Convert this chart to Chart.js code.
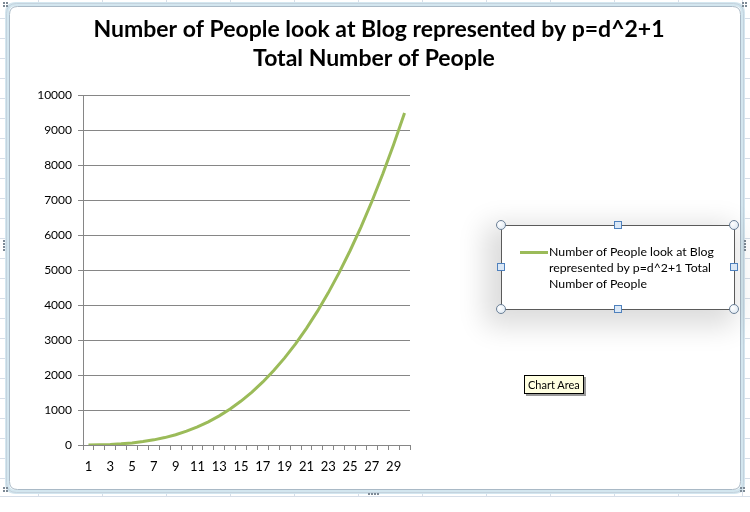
<!DOCTYPE html>
<html>
<head>
<meta charset="utf-8">
<script src="https://cdn.jsdelivr.net/npm/chart.js@4"></script>
<style>
  html, body { margin: 0; padding: 0; background: #fff; }
  #wrap { position: relative; width: 750px; height: 512px; overflow: hidden; }
  #c { position: absolute; left: 0; top: 0; }
  .legend { position: absolute; left: 501px; top: 225px; width: 234px; height: 85px; box-sizing: border-box;
            border: 1px solid #5a5a5a; background: #fff; box-shadow: -8px 8px 26px 8px rgba(0,0,0,0.14); }
  .swatch { position: absolute; left: 520px; top: 251px; width: 28px; height: 3px; background: #9bbb59; }
  .ltext { position: absolute; left: 549px; top: 244px; font: 12.3px Lato, "Open Sans", sans-serif; line-height: 16px; color: #000; white-space: nowrap; }
  .hc { position: absolute; width: 10px; height: 10px; border-radius: 50%; box-sizing: border-box;
        border: 1px solid #6a7f96; background: radial-gradient(circle at 35% 35%, #ffffff, #d8e4f0); }
  .hs { position: absolute; width: 8px; height: 8px; box-sizing: border-box;
        border: 1px solid #4f81bd; background: #dbe8f6; }
  .tip { position: absolute; left: 524px; top: 375px; padding: 1px 3px; border: 1px solid #000; background: #ffffe1;
         font: 11px Lato, "Open Sans", sans-serif; line-height: 15px; color: #000; box-shadow: 2px 2px 0 #9a9a9a; }
</style>
</head>
<body>
<div id="wrap">
  <canvas id="c" width="750" height="512"></canvas>
  <div class="legend"></div>
  <div class="swatch"></div>
  <div class="ltext">Number of People look at Blog<br>represented by p=d^2+1 Total<br>Number of People</div>
  <div class="hc" style="left:496px;top:220px"></div>
  <div class="hc" style="left:729px;top:220px"></div>
  <div class="hc" style="left:496px;top:304px"></div>
  <div class="hc" style="left:729px;top:304px"></div>
  <div class="hs" style="left:614px;top:221px"></div>
  <div class="hs" style="left:614px;top:305px"></div>
  <div class="hs" style="left:497px;top:263px"></div>
  <div class="hs" style="left:730px;top:263px"></div>
  <div class="tip">Chart Area</div>
</div>
<script>
const titleLines = ["Number of People look at Blog represented by p=d^2+1", "Total Number of People"];
const seriesName = "Number of People look at Blog represented by p=d^2+1 Total Number of People";
const days = [1,2,3,4,5,6,7,8,9,10,11,12,13,14,15,16,17,18,19,20,21,22,23,24,25,26,27,28,29,30];
const totals = [2,7,17,34,60,97,147,212,294,395,517,662,832,1029,1255,1512,1802,2127,2489,2890,3332,3817,4347,4924,5550,6227,6957,7742,8584,9485];
const yMin = 0, yMax = 10000, yStep = 1000;

const bgPlugin = {
  id: 'bg',
  beforeDraw(chart) {
    const ctx = chart.ctx;
    ctx.save();
    ctx.fillStyle = '#fff';
    ctx.fillRect(0, 0, 750, 512);
    ctx.strokeStyle = '#d6dee8';
    ctx.lineWidth = 1;
    for (let x = 38; x < 750; x += 64) { ctx.beginPath(); ctx.moveTo(x + 0.5, 0); ctx.lineTo(x + 0.5, 497); ctx.stroke(); }
    for (let y = 18; y < 497; y += 20) { ctx.beginPath(); ctx.moveTo(0, y + 0.5); ctx.lineTo(750, y + 0.5); ctx.stroke(); }
    ctx.beginPath(); ctx.moveTo(0, 496.5); ctx.lineTo(750, 496.5); ctx.stroke();
    const rr = (x, y, w, h, r) => {
      ctx.beginPath();
      ctx.moveTo(x + r, y); ctx.lineTo(x + w - r, y); ctx.quadraticCurveTo(x + w, y, x + w, y + r);
      ctx.lineTo(x + w, y + h - r); ctx.quadraticCurveTo(x + w, y + h, x + w - r, y + h);
      ctx.lineTo(x + r, y + h); ctx.quadraticCurveTo(x, y + h, x, y + h - r);
      ctx.lineTo(x, y + r); ctx.quadraticCurveTo(x, y, x + r, y); ctx.closePath();
    };
    rr(7, 4, 736, 488, 9);
    ctx.fillStyle = '#fff'; ctx.fill();
    ctx.lineWidth = 4; ctx.strokeStyle = '#d3e6ef'; ctx.stroke();
    rr(9.5, 6.5, 731, 483, 8);
    ctx.lineWidth = 1; ctx.strokeStyle = '#a9b9c6'; ctx.stroke();
    rr(6.5, 3.5, 737, 489, 10);
    ctx.strokeStyle = '#c4d3de'; ctx.stroke();
    ctx.fillStyle = '#7d8a96';
    const dots = (cx, cy) => { [[0,0],[3,0],[0,3],[3,3]].forEach(d => ctx.fillRect(cx + d[0], cy + d[1], 2, 2)); };
    dots(3, 2); dots(742, 2); dots(3, 487); dots(740, 487);
    [[368,493],[371,493],[374,493],[377,493]].forEach(d => ctx.fillRect(d[0], d[1], 2, 2));
    [[744,240],[744,243],[744,246],[744,249]].forEach(d => ctx.fillRect(d[0], d[1], 2, 2));
    [[3,240],[3,243],[3,246],[3,249]].forEach(d => ctx.fillRect(d[0], d[1], 2, 2));
    ctx.restore();
  },
  afterDraw(chart) {
    const ctx = chart.ctx;
    ctx.save();
    ctx.fillStyle = '#000';
    ctx.textAlign = 'center';
    ctx.textBaseline = 'alphabetic';
    ctx.font = 'bold 23px Lato, "Open Sans", sans-serif';
    ctx.fillText(titleLines[0], 379, 37);
    ctx.fillText(titleLines[1], 374, 66);
    ctx.restore();
  }
};

new Chart(document.getElementById('c'), {
  type: 'line',
  data: {
    labels: days,
    datasets: [{
      label: seriesName,
      data: totals,
      borderColor: '#9bbb59',
      backgroundColor: '#9bbb59',
      borderWidth: 3,
      pointRadius: 0,
      tension: 0,
      fill: false
    }]
  },
  options: {
    responsive: false,
    animation: false,
    events: [],
    layout: { padding: { left: 0, right: 340, top: 95, bottom: 37 } },
    plugins: { legend: { display: false }, tooltip: { enabled: false }, title: { display: false } },
    scales: {
      x: {
        type: 'category',
        offset: true,
        grid: { offset: true, drawOnChartArea: false, drawTicks: true, tickLength: 5, color: '#868686' },
        border: { color: '#868686', width: 1 },
        ticks: {
          autoSkip: false, maxRotation: 0, minRotation: 0, padding: 9, color: '#000',
          font: { family: 'Lato, "Open Sans", sans-serif', size: 13 },
          callback: (v, i) => (i % 2 === 0 ? String(days[i]) : '')
        },
        afterFit: s => { s.height = 30; }
      },
      y: {
        min: yMin, max: yMax,
        grid: { color: '#868686', tickLength: 5, drawTicks: true },
        border: { color: '#868686', width: 1 },
        ticks: { stepSize: yStep, padding: 6, color: '#000', font: { family: 'Lato, "Open Sans", sans-serif', size: 12 },
                 callback: v => String(v) },
        afterFit: s => { s.width = 83; }
      }
    }
  },
  plugins: [bgPlugin]
});
</script>
</body>
</html>
